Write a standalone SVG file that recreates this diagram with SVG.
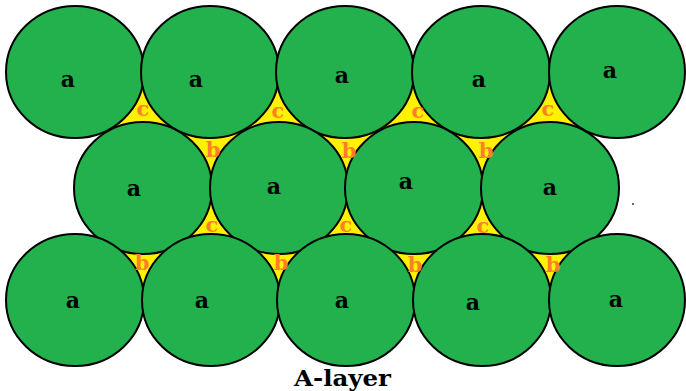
<svg xmlns="http://www.w3.org/2000/svg" width="686" height="391" viewBox="0 0 686 391">
<style>
.ball{fill:#22B14C;stroke:#000;stroke-width:2}
.gap{fill:#FFF200;stroke:none}
.la{font-family:"DejaVu Serif","Liberation Serif",serif;font-weight:bold;font-size:22px;fill:#000;text-anchor:middle}
.lo{font-family:"DejaVu Serif","Liberation Serif",serif;font-weight:bold;font-size:21px;fill:#FF7F27;text-anchor:middle}
.title{font-family:"DejaVu Serif","Liberation Serif",serif;font-weight:bold;font-size:22px;fill:#000}
</style>
<rect width="686" height="391" fill="#fff"/>
<g id="gaps">
<polygon class="gap" points="75,72 617,72 550,188 617,300 75,300 143,188"/>
</g>
<g id="row1">
<g id="r1c1"><ellipse class="ball" cx="75" cy="72" rx="69" ry="66"/><text class="la" x="68" y="87">a</text></g>
<g id="r1c2"><ellipse class="ball" cx="210" cy="72" rx="69" ry="66"/><text class="la" x="196" y="87">a</text></g>
<g id="r1c3"><ellipse class="ball" cx="345" cy="72" rx="69" ry="66"/><text class="la" x="342" y="83">a</text></g>
<g id="r1c4"><ellipse class="ball" cx="481" cy="72" rx="69" ry="66"/><text class="la" x="479" y="87">a</text></g>
<g id="r1c5"><ellipse class="ball" cx="617" cy="72" rx="68" ry="66"/><text class="la" x="610" y="78">a</text></g>
</g>
<g id="row2">
<g id="r2c1"><ellipse class="ball" cx="143" cy="188" rx="69" ry="66"/><text class="la" x="134" y="196">a</text></g>
<g id="r2c2"><ellipse class="ball" cx="279" cy="188" rx="69" ry="66"/><text class="la" x="274" y="194">a</text></g>
<g id="r2c3"><ellipse class="ball" cx="414" cy="188" rx="69" ry="66"/><text class="la" x="406" y="189">a</text></g>
<g id="r2c4"><ellipse class="ball" cx="550" cy="188" rx="69" ry="66"/><text class="la" x="550" y="195">a</text></g>
</g>
<g id="row3">
<g id="r3c1"><ellipse class="ball" cx="75" cy="300" rx="69" ry="66"/><text class="la" x="73" y="308">a</text></g>
<g id="r3c2"><ellipse class="ball" cx="211" cy="300" rx="69" ry="66"/><text class="la" x="202" y="308">a</text></g>
<g id="r3c3"><ellipse class="ball" cx="346" cy="300" rx="69" ry="66"/><text class="la" x="342" y="308">a</text></g>
<g id="r3c4"><ellipse class="ball" cx="482" cy="300" rx="69" ry="66"/><text class="la" x="473" y="310">a</text></g>
<g id="r3c5"><ellipse class="ball" cx="617" cy="300" rx="68" ry="66"/><text class="la" x="616" y="307">a</text></g>
</g>
<g id="gap-labels">
<text class="lo" x="143" y="116">c</text>
<text class="lo" x="278" y="118">c</text>
<text class="lo" x="418" y="118">c</text>
<text class="lo" x="548" y="116">c</text>
<text class="lo" x="213" y="157">b</text>
<text class="lo" x="349" y="158">b</text>
<text class="lo" x="486" y="158">b</text>
<text class="lo" x="212" y="232">c</text>
<text class="lo" x="346" y="232">c</text>
<text class="lo" x="483" y="233">c</text>
<text class="lo" x="142" y="270">b</text>
<text class="lo" x="281" y="270">b</text>
<text class="lo" x="415" y="272">b</text>
<text class="lo" x="553" y="272">b</text>
</g>
<rect x="632" y="203" width="2" height="2" fill="#666"/>
<text class="title" x="294" y="386" textLength="97" lengthAdjust="spacingAndGlyphs">A-layer</text>
</svg>
